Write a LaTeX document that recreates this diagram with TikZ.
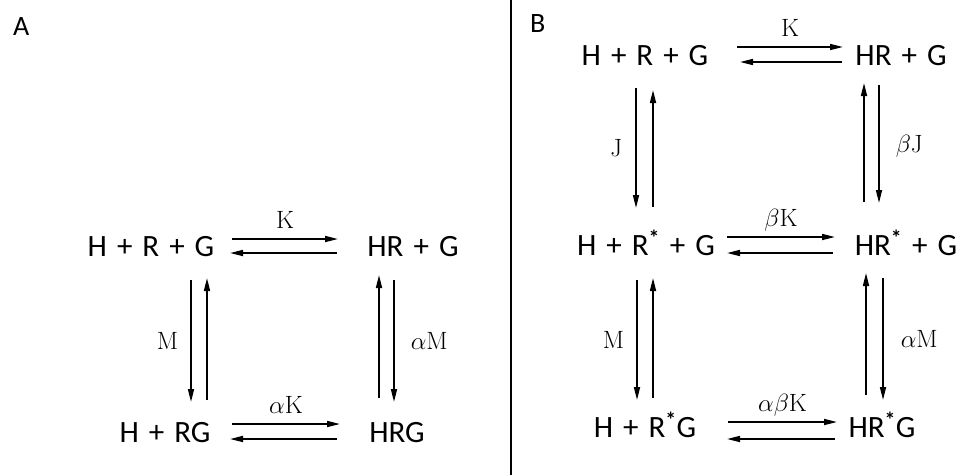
\documentclass[tikz,border=0pt]{standalone}
\usepackage{fontspec}
\newfontfamily\spfont{Carlito}
\usepackage{tikz}
\usetikzlibrary{arrows.meta}
\newcommand{\pl}{\hspace{10pt}+\hspace{10pt}}
\newcommand{\st}{\textsuperscript{\bfseries *}}

\begin{document}
\begin{tikzpicture}[x=1pt, y=-1pt,
    species/.style={font=\spfont\fontsize{31}{36}\selectfont, inner sep=0pt, anchor=base},
    panel/.style={font=\spfont\fontsize{28}{32}\selectfont, inner sep=0pt, anchor=base west},
    rate/.style={font=\fontsize{25}{28}\selectfont, inner sep=0pt, text height=17pt, text depth=0pt},
    arrow/.style={-{Triangle[length=13pt, width=6pt]}, line width=1.6pt},
    divider/.style={line width=1.4pt}]

    \useasboundingbox (0,0) rectangle (958,475);

    % panel A
    \node[panel] (labA) at (13,35) {A};
    \node[species] (a1) at (151,256) {H\pl R\pl G};
    \node[species] (a2) at (413,256) {HR\pl G};
    \node[species] (a3) at (165,442) {H\pl RG};
    \node[species] (a4) at (397,442) {HRG};

    \draw[arrow] ([xshift=81pt,yshift=17pt]a1.base) -- ([xshift=-75pt,yshift=17pt]a2.base)
        node[rate, midway, above=10pt] {K};
    \draw[arrow] ([xshift=-76pt,yshift=3pt]a2.base) -- ([xshift=79pt,yshift=3pt]a1.base);
    \draw[arrow] ([xshift=67pt,yshift=18pt]a3.base) -- ([xshift=-57pt,yshift=18pt]a4.base)
        node[rate, midway, above=10pt] {$\alpha$K};
    \draw[arrow] ([xshift=-60pt,yshift=3pt]a4.base) -- ([xshift=65pt,yshift=3pt]a3.base);

    \draw[arrow] ([xshift=40pt,yshift=-24pt]a1.base) -- ([xshift=26pt,yshift=40pt]a3.base)
        node[rate, midway, left=12pt] {M};
    \draw[arrow] ([xshift=42pt,yshift=42pt]a3.base) -- ([xshift=56pt,yshift=-22pt]a1.base);
    \draw[arrow] ([xshift=-18pt,yshift=44pt]a4.base) -- ([xshift=-34pt,yshift=-19pt]a2.base);
    \draw[arrow] ([xshift=-19pt,yshift=-24pt]a2.base) -- ([xshift=-3pt,yshift=40pt]a4.base)
        node[rate, midway, right=16pt] {$\alpha$M};

    \draw[divider] (511,0) -- (511,475);

    % panel B
    \node[panel] (labB) at (530,32) {B};
    \node[species] (b1) at (645,65) {H\pl R\pl G};
    \node[species] (b2) at (901,65) {HR\pl G};
    \node[species] (b3) at (646,255) {H\pl R\st\pl G};
    \node[species] (b4) at (906,255) {HR\st\pl G};
    \node[species] (b5) at (645,437) {H\pl R\st G};
    \node[species] (b6) at (882,437) {HR\st G};

    \draw[arrow] ([xshift=92pt,yshift=18pt]b1.base) -- ([xshift=-58pt,yshift=18pt]b2.base)
        node[rate, midway, above=10pt] {K};
    \draw[arrow] ([xshift=-59pt,yshift=3pt]b2.base) -- ([xshift=95pt,yshift=3pt]b1.base);
    \draw[arrow] ([xshift=81pt,yshift=18pt]b3.base) -- ([xshift=-71pt,yshift=18pt]b4.base)
        node[rate, midway, above=10pt] {$\beta$K};
    \draw[arrow] ([xshift=-73pt,yshift=2pt]b4.base) -- ([xshift=81pt,yshift=2pt]b3.base);
    \draw[arrow] ([xshift=83pt,yshift=15pt]b5.base) -- ([xshift=-45pt,yshift=15pt]b6.base)
        node[rate, midway, above=10pt] {$\alpha\beta$K};
    \draw[arrow] ([xshift=-47pt,yshift=-2pt]b6.base) -- ([xshift=82pt,yshift=-2pt]b5.base);

    \draw[arrow] ([xshift=-9pt,yshift=-23pt]b1.base) -- ([xshift=-10pt,yshift=47pt]b3.base)
        node[rate, midway, left=13pt] {J};
    \draw[arrow] ([xshift=7pt,yshift=48pt]b3.base) -- ([xshift=8pt,yshift=-25pt]b1.base);
    \draw[arrow] ([xshift=-42pt,yshift=53pt]b4.base) -- ([xshift=-37pt,yshift=-18pt]b2.base);
    \draw[arrow] ([xshift=-22pt,yshift=-20pt]b2.base) -- ([xshift=-27pt,yshift=52pt]b4.base)
        node[rate, midway, right=16pt] {$\beta$J};

    \draw[arrow] ([xshift=-9pt,yshift=-25pt]b3.base) -- ([xshift=-8pt,yshift=37pt]b5.base)
        node[rate, midway, left=12pt] {M};
    \draw[arrow] ([xshift=8pt,yshift=39pt]b5.base) -- ([xshift=7pt,yshift=-23pt]b3.base);
    \draw[arrow] ([xshift=-16pt,yshift=42pt]b6.base) -- ([xshift=-40pt,yshift=-18pt]b4.base);
    \draw[arrow] ([xshift=-23pt,yshift=-23pt]b4.base) -- ([xshift=1pt,yshift=37pt]b6.base)
        node[rate, midway, right=17pt] {$\alpha$M};
\end{tikzpicture}
\end{document}
